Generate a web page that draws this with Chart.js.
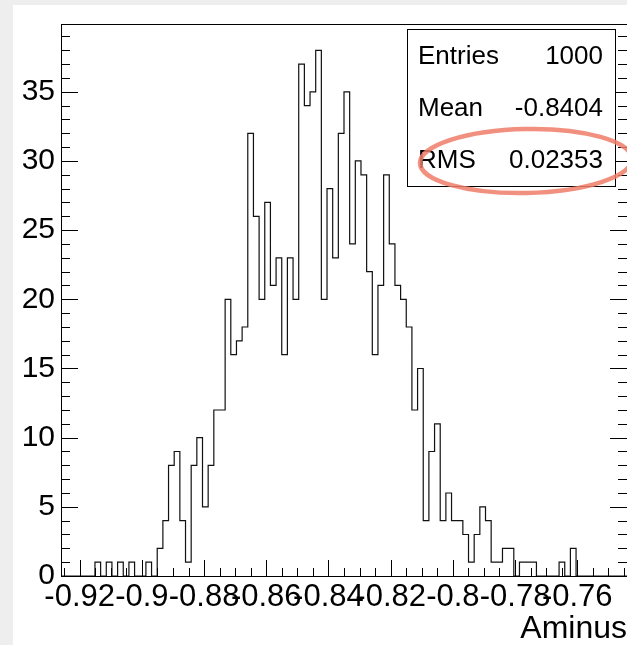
<!DOCTYPE html>
<html>
<head>
<meta charset="utf-8">
<script src="https://cdn.jsdelivr.net/npm/chart.js@4.4.1/dist/chart.umd.min.js"></script>
<style>
  html, body { margin: 0; padding: 0; background: #eeeeee; }
  #histChart { display: block; }
</style>
</head>
<body>
<canvas id="histChart" width="627" height="645"></canvas>
<script>
// histogram binning (100 bins)
const xMin = -0.926;
const binWidth = 0.00182;
const counts = [
  0, 0, 0, 0, 0, 0, 0, 1, 0, 1,
  0, 1, 0, 1, 0, 0, 1, 0, 2, 4,
  8, 9, 4, 1, 8, 10, 5, 8, 12, 12,
  20, 16, 17, 18, 32, 26, 20, 27, 21, 23,
  16, 23, 20, 37, 34, 35, 38, 20, 28, 23,
  32, 35, 24, 30, 29, 22, 16, 21, 29, 24,
  21, 20, 18, 12, 15, 4, 9, 11, 4, 6,
  4, 4, 3, 1, 3, 5, 4, 1, 1, 2,
  2, 0, 1, 1, 1, 0, 0, 0, 0, 1,
  0, 2, 0, 0, 0, 0, 0, 0, 0, 0
];
const xMajorTicks = [-0.92, -0.9, -0.88, -0.86, -0.84, -0.82, -0.8, -0.78, -0.76];
const yMajorTicks = [0, 5, 10, 15, 20, 25, 30, 35];
const yMax = 39.9;
const axisTitle = 'Aminus';
const statNames = ['Entries', 'Mean', 'RMS'];
const statValues = ['1000', '-0.8404', '0.02353'];

const xMax = xMin + counts.length * binWidth;
const FONT = '"Liberation Sans", Arial, Helvetica, sans-serif';

const histPoints = counts.map((c, i) => ({x: xMin + i * binWidth, y: c}));
histPoints.push({x: xMax, y: 0});

// ROOT style frame, inward ticks, stats box
const rootStyle = {
  id: 'rootStyle',
  beforeDraw(chart) {
    const {ctx, width, height} = chart;
    ctx.save();
    ctx.fillStyle = '#eeeeee';
    ctx.fillRect(0, 0, width, height);
    ctx.fillStyle = '#ffffff';
    ctx.fillRect(13, 5, width - 13, height - 5);
    ctx.restore();
  },
  afterDatasetsDraw(chart) {
    const {ctx, chartArea: a, scales: {x, y}} = chart;
    ctx.save();
    ctx.strokeStyle = '#000';
    ctx.lineWidth = 1;
    ctx.beginPath();
    for (let v = 0; v < yMax; v++) {
      const py = Math.round(y.getPixelForValue(v)) + 0.5;
      const len = v % 5 === 0 ? 17 : 9;
      ctx.moveTo(a.left, py); ctx.lineTo(a.left + len, py);
      ctx.moveTo(a.right, py); ctx.lineTo(a.right - len, py);
    }
    for (let k = 0; ; k++) {
      const v = -0.925 + k * 0.005;
      if (v > xMax) break;
      const q = v / 0.02;
      const major = Math.abs(q - Math.round(q)) < 1e-6;
      const px = Math.round(x.getPixelForValue(v)) + 0.5;
      ctx.moveTo(px, a.bottom);
      ctx.lineTo(px, a.bottom - (major ? 16 : 8));
    }
    ctx.stroke();
    ctx.strokeRect(a.left + 0.5, a.top + 0.5, a.right - a.left, a.bottom - a.top);
    ctx.restore();
  },
  afterDraw(chart) {
    const {ctx} = chart;
    ctx.save();
    ctx.fillStyle = '#fff';
    ctx.fillRect(407, 29, 208, 157);
    ctx.strokeStyle = '#000';
    ctx.lineWidth = 1;
    ctx.strokeRect(407.5, 29.5, 208, 157);
    ctx.fillStyle = '#000';
    ctx.font = '26px ' + FONT;
    statNames.forEach((name, i) => {
      const by = 64 + i * 52;
      ctx.textAlign = 'left';
      ctx.fillText(name, 418, by);
      ctx.textAlign = 'right';
      ctx.fillText(statValues[i], 603, by);
    });
    // highlight around RMS
    ctx.beginPath();
    ctx.ellipse(526, 161, 106, 32, -0.02, 0, Math.PI * 2);
    ctx.strokeStyle = 'rgba(240, 125, 105, 0.85)';
    ctx.lineWidth = 4.5;
    ctx.stroke();
    ctx.restore();
  }
};

const ctx = document.getElementById('histChart').getContext('2d');

new Chart(ctx, {
  type: 'line',
  data: {
    datasets: [{
      data: histPoints,
      stepped: 'after',
      borderColor: '#111',
      borderWidth: 1.2,
      pointRadius: 0,
      fill: false,
      clip: 4
    }]
  },
  options: {
    responsive: false,
    animation: false,
    devicePixelRatio: 1,
    layout: {autoPadding: false, padding: {top: 12, left: 0, right: 0, bottom: 0}},
    plugins: {legend: {display: false}, tooltip: {enabled: false}},
    scales: {
      x: {
        type: 'linear',
        min: xMin,
        max: xMax,
        grid: {display: false, drawTicks: false},
        border: {display: false},
        afterBuildTicks: (scale) => { scale.ticks = xMajorTicks.map(v => ({value: v})); },
        afterFit: (scale) => { scale.height = 69; },
        ticks: {
          autoSkip: false,
          maxRotation: 0,
          minRotation: 0,
          padding: 3,
          color: '#000',
          font: {family: FONT, size: 31},
          callback: (v) => String(v)
        },
        title: {
          display: true,
          text: axisTitle,
          align: 'end',
          color: '#000',
          padding: 0,
          font: {family: FONT, size: 32, lineHeight: 1}
        }
      },
      y: {
        min: 0,
        max: yMax,
        grid: {display: false, drawTicks: false},
        border: {display: false},
        afterBuildTicks: (scale) => { scale.ticks = yMajorTicks.map(v => ({value: v})); },
        afterFit: (scale) => { scale.width = 61; },
        ticks: {
          padding: 6,
          color: '#000',
          font: {family: FONT, size: 30},
          callback: (v) => String(v)
        }
      }
    }
  },
  plugins: [rootStyle]
});
</script>
</body>
</html>
